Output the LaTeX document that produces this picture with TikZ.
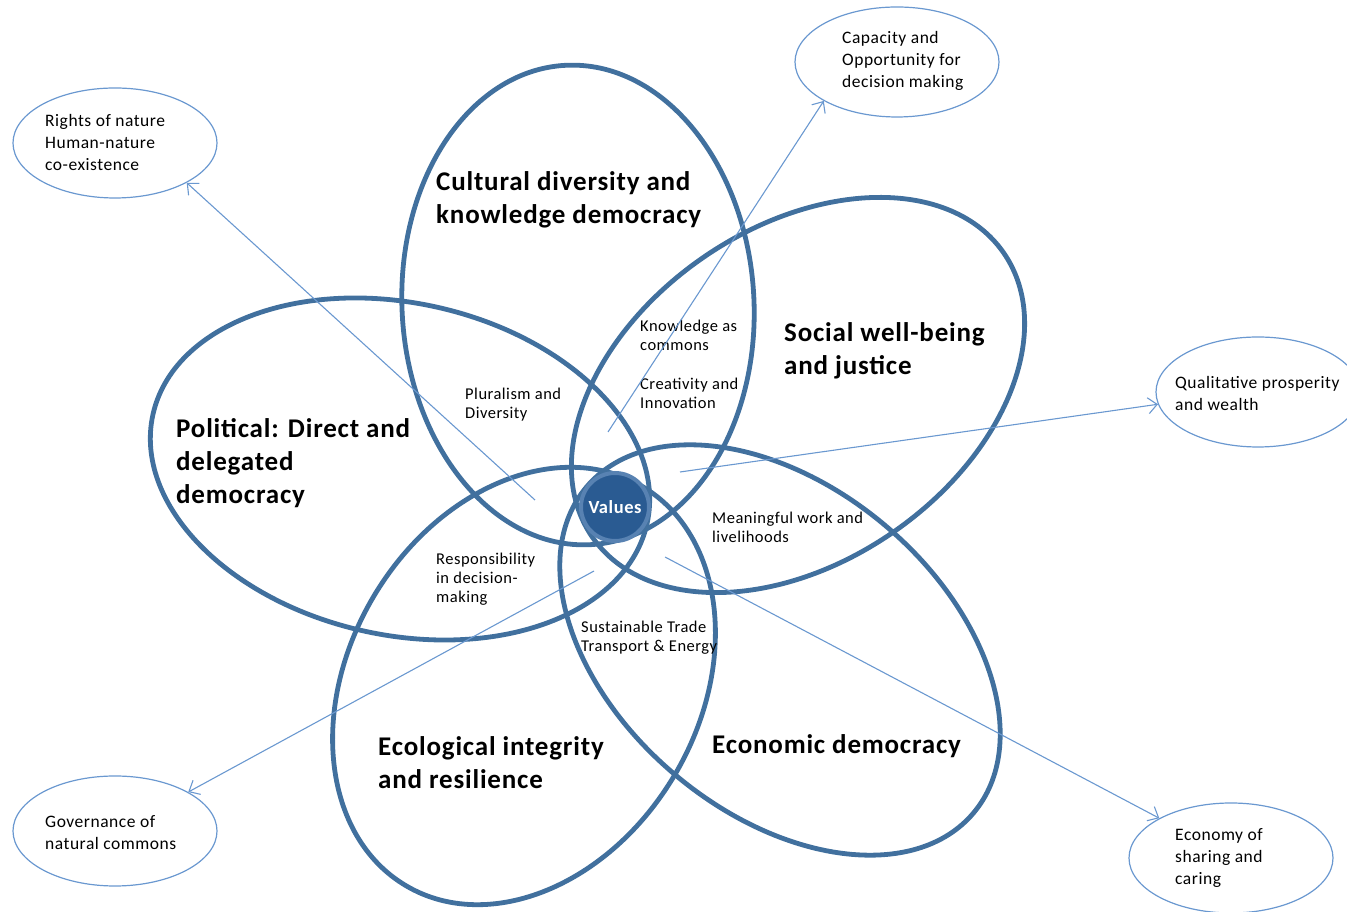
\documentclass[tikz,border=0pt]{standalone}
\usepackage{fontspec}
\setmainfont{Carlito}[LetterSpace=3]
\usepackage{tikz}
\usetikzlibrary{shapes.geometric,arrows.meta}
\definecolor{petalBlue}{HTML}{41709E}
\definecolor{valueBlue}{HTML}{2A5B92}
\definecolor{ringBlue}{HTML}{5882B2}
\definecolor{linkBlue}{HTML}{6A98D0}

\begin{document}
\begin{tikzpicture}[x=1pt,y=1pt,
  petal/.style={draw=petalBlue, line width=4.8pt},
  oval/.style={ellipse, draw=linkBlue, line width=1.2pt, minimum width=204pt,
    minimum height=110pt, inner sep=0pt},
  link/.style={draw=linkBlue, line width=1.1pt, -{Straight Barb[length=9pt,width=16pt]}},
  area/.style={anchor=west, align=left, inner sep=0pt,
    font=\fontsize{27}{33}\selectfont\bfseries},
  tag/.style={anchor=west, align=left, inner sep=0pt, font=\fontsize{16.5}{19}\selectfont},
  note/.style={anchor=west, align=left, inner sep=0pt, font=\fontsize{17.5}{22}\selectfont}]
  \useasboundingbox (0,0) rectangle (1347,912);

  % the five overlapping dimensions
  \draw[petal, rotate around={3:(578,607)}]     (578,607) ellipse (176 and 240);   % cultural
  \draw[petal, rotate around={34.6:(798,517)}]  (798,517) ellipse (250 and 167);   % social
  \draw[petal, rotate around={-12.4:(400,443)}] (400,443) ellipse (253 and 166);   % political
  \draw[petal, rotate around={59.4:(524,226)}]  (524,226) ellipse (232 and 175);   % ecological
  \draw[petal, rotate around={-40.1:(780,262)}] (780,262) ellipse (253 and 163);   % economic

  % names of the dimensions
  \node[area] (cultural)   at (436,712.5) {Cultural diversity and\\knowledge democracy};
  \node[area] (social)     at (784,561.5) {Social well-being\\and justice};
  \node[area] (political)  at (176,449)   {Political: Direct and\\delegated\\democracy};
  \node[area] (ecological) at (378,149.5) {Ecological integrity\\and resilience};
  \node[area] (economic)   at (712,166)   {Economic democracy};

  % overlaps
  \node[tag] (knowledge)   at (640,576.5) {Knowledge as\\commons};
  \node[tag] (creativity)  at (640,518.5) {Creativity and\\Innovation};
  \node[tag] (pluralism)   at (465,507.5) {Pluralism and\\Diversity};
  \node[tag] (respons)     at (436,333)   {Responsibility\\in decision-\\making};
  \node[tag] (work)        at (712,384.5) {Meaningful work and\\livelihoods};
  \node[tag] (trade)       at (581,274.5) {Sustainable Trade\\Transport \& Energy};

  % outer outcomes
  \node[oval] (rights)      at (115,769)  {};
  \node[oval] (capacity)    at (897,850)  {};
  \node[oval] (qualitative) at (1258,520) {};
  \node[oval] (economy)     at (1231,54)  {};
  \node[oval] (governance)  at (115,81)   {};
  \node[note] at (45,769)    {Rights of nature\\Human-nature\\co-existence};
  \node[note] at (842,851)   {Capacity and\\Opportunity for\\decision making};
  \node[note] at (1175,518.5){Qualitative prosperity\\and wealth};
  \node[note] at (1175,54)   {Economy of\\sharing and\\caring};
  \node[note] at (45,79)     {Governance of\\natural commons};

  % arrows out of the overlaps
  \coordinate (fromPol)  at (535,412);
  \coordinate (fromCul)  at (608,480);
  \coordinate (fromSoc)  at (680,440);
  \coordinate (fromEco)  at (665,355);
  \coordinate (fromEcol) at (594,341);
  \draw[link] (fromPol)  -- (rights.-29);
  \draw[link] (fromCul)  -- (capacity.208);
  \draw[link] (fromSoc)  -- (qualitative.187);
  \draw[link] (fromEco)  -- (economy.151);
  \draw[link] (fromEcol) -- (governance.28);

  % the core
  \node[circle, fill=valueBlue, draw=ringBlue, line width=4pt, minimum size=68pt,
    inner sep=0pt, text=white, font=\fontsize{18.5}{19}\selectfont\bfseries]
    (values) at (615,405) {Values};
\end{tikzpicture}
\end{document}
